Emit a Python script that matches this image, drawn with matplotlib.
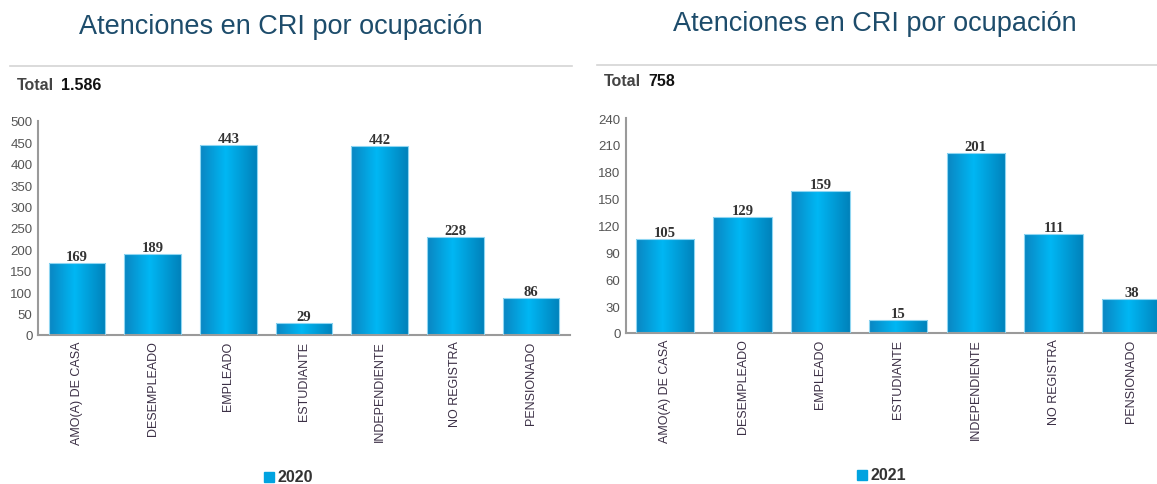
import numpy as np
import matplotlib.pyplot as plt
from matplotlib.colors import LinearSegmentedColormap
from matplotlib.patches import Rectangle

plt.rcParams['font.family'] = ['Liberation Sans', 'DejaVu Sans']

#   Data
categories = ['AMO(A) DE CASA', 'DESEMPLEADO', 'EMPLEADO', 'ESTUDIANTE',
              'INDEPENDIENTE', 'NO REGISTRA', 'PENSIONADO']
values_2020 = [169, 189, 443, 29, 442, 228, 86]
values_2021 = [105, 129, 159, 15, 201, 111, 38]
total_2020 = '1.586'
total_2021 = '758'
ticks_2020 = [0, 50, 100, 150, 200, 250, 300, 350, 400, 450, 500]
ticks_2021 = [0, 30, 60, 90, 120, 150, 180, 210, 240]

title_text = 'Atenciones en CRI por ocupación'
W, H = 1157, 485

#   Horizontal gradient used to fill every bar
bar_cmap = LinearSegmentedColormap.from_list(
    'bar', [(0.0, '#0a86c2'), (0.45, '#00b7f4'), (1.0, '#0082bb')])
grad = np.linspace(0, 1, 64).reshape(1, -1)


def px_axes(fig, x0, x1, y_top, y_bot):
    return fig.add_axes([x0 / W, (H - y_bot) / H, (x1 - x0) / W, (y_bot - y_top) / H])


def draw_panel(fig, ax, values, ticks, xlim, total, year, title_x, title_y,
               line_x, line_y, total_xy, legend_xy):

    x = np.arange(len(categories))
    bars = ax.bar(x, values, width=0.75, color='none', edgecolor='#8fd6f2',
                  linewidth=0.8, zorder=3)
    for b in bars:
        bx, by = b.get_x(), b.get_y()
        bw, bh = b.get_width(), b.get_height()
        im = ax.imshow(grad, cmap=bar_cmap, aspect='auto',
                       extent=[bx, bx + bw, by, by + bh], zorder=2,
                       interpolation='bilinear')
        clip = Rectangle((bx, by), bw, bh, transform=ax.transData)
        im.set_clip_path(clip)
        ax.text(bx + bw / 2, bh, str(int(bh)), ha='center', va='bottom',
                fontsize=10.5, fontweight='bold', family='Liberation Serif',
                color='#333333')

    ax.set_xlim(*xlim)
    ax.set_ylim(ticks[0], ticks[-1])
    ax.set_yticks(ticks)
    ax.set_xticks(x)
    ax.set_xticklabels(categories, rotation=90, fontsize=9, color='#3b2f45')
    ax.tick_params(axis='y', length=0, labelsize=9.5, labelcolor='#555555', pad=4)
    ax.tick_params(axis='x', length=0, pad=4)
    for s in ['top', 'right']:
        ax.spines[s].set_visible(False)
    for s in ['left', 'bottom']:
        ax.spines[s].set_color('#9a9a9a')
        ax.spines[s].set_linewidth(1.5)

    fig.text(title_x / W, 1 - title_y / H, title_text, ha='center', va='center',
             fontsize=19.5, color='#1d4c6b')
    fig.add_artist(plt.Line2D([line_x[0] / W, line_x[1] / W],
                              [1 - line_y / H, 1 - line_y / H],
                              color='#d4d4d4', linewidth=1.2))
    fig.text(total_xy[0] / W, 1 - total_xy[1] / H, 'Total', ha='left',
             va='center', fontsize=11.5, fontweight='bold', color='#444444')
    fig.text((total_xy[0] + 44) / W, 1 - total_xy[1] / H, total, ha='left',
             va='center', fontsize=11.5, fontweight='bold', color='#111111')
    fig.add_artist(Rectangle(((legend_xy[0]) / W, 1 - (legend_xy[1] + 5) / H),
                             10 / W, 10 / H, color='#00a3e0',
                             transform=fig.transFigure))
    fig.text((legend_xy[0] + 13) / W, 1 - legend_xy[1] / H, year, ha='left',
             va='center', fontsize=11.5, fontweight='bold', color='#333333')


fig = plt.figure(figsize=(W / 100, H / 100), dpi=100)

ax1 = px_axes(fig, 38, 570, 122, 336)
draw_panel(fig, ax1, values_2020, ticks_2020, (-0.515, 6.515), total_2020, '2020',
           281, 27, (10, 572), 67, (17, 85), (264, 478))

ax2 = px_axes(fig, 626, 1157, 119, 334)
draw_panel(fig, ax2, values_2021, ticks_2021, (-0.5, 6.33), total_2021, '2021',
           875, 24, (597, 1157), 66, (604, 82), (857, 476))

fig.savefig('out.png', dpi=100)
